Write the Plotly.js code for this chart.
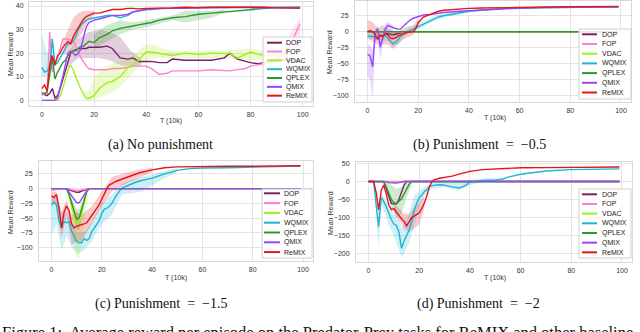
<!DOCTYPE html>
<html><head><meta charset="utf-8">
<script src="https://cdn.plot.ly/plotly-3.0.1.min.js"></script>
<style>html,body{margin:0;padding:0;background:#fff}#chart{width:640px;height:332px}</style>
</head><body><div id="chart"></div>
<script>
// ---------------- DATA ----------------
const methods = ['DOP','FOP','VDAC','WQMIX','QPLEX','QMIX','ReMIX'];
const xTicks = [0,20,40,60,80,100];

// (a) No punishment
const a_T = [0,1,2,3,4,5,6,7,8,9,10,11,12,13,14,15,16,17,18,20,22,25,27,30,33,35,37,40,42,45,48,50,55,60,65,70,72,75,78,80,83,85,88,90,93,95,97,99];
const a_DOP = [3,2.5,2,3,5,1,2,5,9,13,17,20,21,21.5,22,22,22,22,22.5, 22.5,22.5,23,22,18,17.5,18,16.5,16.5,16.5,16,16,17.5, 17,17,17,18,20,17.5,16.5,16,15.5,16,16.5,17,17,17,17,17];
const a_FOP = [2,3,3,29,12,16,18,22,26,26,26,25.5,25,23,20,18,16,14.5,13.5, 13,13,13,13.5,13.5,14,14.5,14.5,14.5,13.5,11,11.5,12.5, 12.5,12.5,13,12.5,12.5,13,13.5,14.5,15,15.5,17,18,19.5,23,28,32.5];
const a_VDAC = [0,0,0,0,0,0,0,2,5,9,13,15,13,10,7,4.5,2.5,1,0.8, 2,5,7.5,8,10,14,15,17,20.5,20.5,20,19.5,19, 20,19.5,20,20,19.8,18,19.5,20.5,19.5,19,19,19.5,19.5,19.5,19.5,19.5];
const a_WQMIX = [14,12,12.5,14,26,15,16,18,20,22,24,24,25,27,30,32,33,34,34.5, 35,35.5,36,36,35,36,37.5,38,38.5,38.5,39,39,39, 39.2,39.4,39.3,39.5,39.5,39.5,39.6,39.6,39.6,39.5,39.5,39.6,39.5,39.5,39.5,39.4];
const a_QPLEX = [3,3,3.5,10,18,9,12,14,16,17,19,20,21,21,22,23,23,24,25, 24.5,26.5,28,29.5,30.5,31,31.5,32,32.5,33,34,34.6,35, 35.5,36.5,37,37.5,37.8,38,38.5,38.7,39,39,39.2,39.3,39.3,39.5,39.5,39.5];
const a_QMIX = [0,0,0,0,0,0,1,5,10,15,20,21,20,19,20,22,27,31,33, 34,34.5,35.5,36,36,36.5,37.5,38,38.5,38.7,39,39,39, 39,39,39.2,39.2,39.3,39.3,39.4,39.3,39,39,39.2,39.3,39.2,39.2,39.2,39.2];
const a_ReMIX = [5,6.5,4,15,19,15,19,20,22.5,24,25,24,27,29,31,33,34.5,35.5,36, 37,37,38,38.5,38.5,39,39,38.8,39,39,39,39,39.2, 39.5,39.3,39.5,39.5,39.4,39.5,39.6,39.7,39.5,39.5,39.3,39.3,39.2,39.1,39,39];
// (a) shaded bands
const a_bandWQMIX_T = [0,1,2,3,4,5];
const a_bandWQMIX_hi = [28,24,20,22,28,17];
const a_bandWQMIX_lo = [10,10,10,12,22,13];
const a_bandReMIX_T = [8,10,12,14,16,18,20];
const a_bandReMIX_hi = [25,30,35,37,38,38,38];
const a_bandReMIX_lo = [19,20,22,26,30,34,36];
const a_bandDOP_T = [10,14,18,22,26,30,34,38];
const a_bandDOP_hi = [20,26,29,30,29,27,21,18];
const a_bandDOP_lo = [14,18,18,18,17,15,14,15];
const a_bandVDAC_T = [16,18,20,24,28,32,36,40,44,50,60,70,80,85];
const a_bandVDAC_hi = [4,4,10,14,16,17,20,24,23,21,21,21,22,21];
const a_bandVDAC_lo = [0,0,0,2,4,8,13,17,18,18,18,18,17,17];
const a_bandQPLEX_T = [20,25,30,35,40,50,55,60,65,70];
const a_bandQPLEX_hi = [28,32,34,33,34,36,38,38,38,38.5];
const a_bandQPLEX_lo = [22,25,28,30,31,34,33,34,35,37];
const a_bandFOP_T = [88,92,96,99];
const a_bandFOP_hi = [19,22,30,35];
const a_bandFOP_lo = [15,17,20,24];

// (b) Punishment = -0.5
const b_T = [0,1,2,3,4,5,6,7,8,9,10,11,12,13,14,15,16,17,18,19,20,22,25,28,30,35,40,45,50,55,60,65,70,80,90,99];
const b_DOP = [0,0,0,0,0,0,0,-1,-3,-4,-5,-4,-3,-1,0,0,0,0,0,0,0, 0,0,0,0,0,0,0,0,0,0,0,0,0,0,0];
const b_FOP = [0,0,0,0,0,0,0,0,0,0,0,0,0,0,0,0,0,0,0,0,0, 0,0,0,0,0,0,0,0,0,0,0,0,0,0,0];
const b_VDAC = [0,0,0,0,0,0,0,0,0,0,0,0,0,0,0,0,0,0,0,0,0, 0,0,0,0,0,0,0,0,0,0,0,0,0,0,0];
const b_WQMIX = [-7,-7,-7,-8,-9,-7,-5,-6,-10,-15,-19,-17,-13,-7,-4,-1,1,2,4,6,8, 12,18,23,25,29,32,33.5,35,36,36.5,37,37.5,38,38.5,38.5];
const b_QPLEX = [0,0,0,0,0,0,0,0,0,0,0,0,0,0,0,0,0,0,0,0,0, 0,0,0,0,0,0,0,0,0,0,0,0,0,0,0];
const b_QMIX = [-35,-38,-55,-3,5,-24,-10,4,10,8,6,5,4,4,8,12,16,19,21,22.5,24, 26,27,29,30,31.5,33,34,35,36,37,37.5,38,38.5,39,39];
const b_ReMIX = [0,2,0,-5,-12,-5,-8,-3,-5,-10,-11,-10,-7,-5,-3,-2,-1,0,0,5,14, 23,27.5,32,33.5,35.5,36.5,37,37.5,38,38,38.5,38.5,39,39,39.5];
const b_bandQMIX_T = [0,1,2,3,4,5,6,7,8,10];
const b_bandQMIX_hi = [-20,-20,-30,5,10,-10,0,12,15,10];
const b_bandQMIX_lo = [-70,-75,-105,-20,-5,-45,-20,-5,0,0];
const b_bandReMIX_T = [0,2,4,6,8,10,12,14,16,18,20];
const b_bandReMIX_hi = [18,15,5,10,5,0,0,5,8,10,20];
const b_bandReMIX_lo = [-10,-15,-20,-20,-20,-27,-20,-12,-8,-5,8];
const b_bandWQMIX_T = [0,4,8,10,12,16,20,25,30,40];
const b_bandWQMIX_hi = [-3,-3,-5,-14,-10,5,12,22,28,34];
const b_bandWQMIX_lo = [-12,-12,-15,-24,-20,-2,4,14,22,30];
const b_bandDOP_T = [6,8,10,12,14];
const b_bandDOP_hi = [0,0,0,0,0];
const b_bandDOP_lo = [0,-8,-10,-8,0];

// (c) Punishment = -1.5
const c_T = [0,1,2,3,4,5,6,7,8,9,10,11,12,13,14,15,16,17,18,19,20,21,22,23,24,25,26,28,30,33,35,40,45,50,55,60,70,80,90,99];
const c_DOP = [0,0,0,0,0,0,0,-2,-4,-5,-6,-6,-4,-2,-1,0,0,0,0,0,0,0,0,0,0,0,0, 0,0,0,0,0,0,0,0,0,0,0,0,0];
const c_FOP = [-3,-2,-1,0,0,0,0,0,-2,-3,-3,-3,-2,-1,0,0,0,0,0,0,0,0,0,0,0,0,0, 0,0,0,0,0,0,0,0,0,0,0,0,0];
const c_VDAC = [0,0,0,0,0,0,0,-12,-30,-48,-59,-59,-40,-22,-5,0,0,0,0,0,0,0,0,0,0,0,0, 0,0,0,0,0,0,0,0,0,0,0,0,0];
const c_WQMIX = [-28,-23,-28,-55,-67,-56,-58,-56,-72,-82,-90,-92,-92,-85,-88,-85,-73,-67,-61,-54,-42,-35,-33,-30,-25,-18,-10, 1,5,10,13,18,25,31,34,35,35.5,36.5,37,38.5];
const c_QPLEX = [0,0,0,0,0,0,0,-10,-25,-40,-52,-50,-35,-20,-5,0,0,0,0,0,0,0,0,0,0,0,0, 0,0,0,0,0,0,0,0,0,0,0,0,0];
const c_QMIX = [0,0,0,0,0,0,0,-6,-12,-18,-24,-24,-17,-11,-4,0,0,0,0,0,0,0,0,0,0,0,0, 0,0,0,0,0,0,0,0,0,0,0,0,0];
const c_ReMIX = [-12,-15,-10,-33,-67,-40,-29,-38,-60,-67,-64,-62,-61,-60,-58,-52,-46,-40,-33,-27,-18,-9,0,6,9,11,13, 16,20,24,27,32,35.5,37,37.5,37.5,38,38,38.5,39];
const c_bandWQMIX_T = [0,2,4,6,8,10,12,14,16,18,20,24,28,32,36,40,45,50];
const c_bandWQMIX_hi = [-15,-15,-40,-40,-55,-75,-75,-70,-55,-40,-25,-10,8,15,20,25,30,35];
const c_bandWQMIX_lo = [-80,-60,-105,-80,-100,-110,-108,-100,-90,-75,-60,-45,-10,-8,-5,5,18,28];
const c_bandReMIX_T = [0,2,4,6,8,10,12,16,20,24,28,32,36,40];
const c_bandReMIX_hi = [-5,-5,-40,-20,-45,-40,-45,-30,-5,20,25,30,33,36];
const c_bandReMIX_lo = [-25,-25,-85,-45,-95,-90,-90,-60,-30,-5,5,12,20,28];
const c_bandVDAC_T = [7,9,10,11,13,15];
const c_bandVDAC_hi = [-5,-30,-40,-40,-15,0];
const c_bandVDAC_lo = [-20,-90,-118,-118,-60,0];
const c_bandQPLEX_T = [7,10,11,14];
const c_bandQPLEX_hi = [-5,-35,-35,0];
const c_bandQPLEX_lo = [-15,-70,-70,-10];

// (d) Punishment = -2
const d_T = [0,1,2,3,4,5,6,7,8,9,10,11,12,13,14,15,16,17,18,19,20,21,22,23,24,25,26,28,30,33,36,38,40,45,50,53,55,60,70,80,90,99];
const d_DOP = [0,0,0,0,0,0,0,-20,-42,-61,-62,-62,-50,-30,-10,0,0,0,0,0,0,0,0,0,0,0,0, 0,0,0,0,0,0,0,0,0,0,0,0,0,0,0];
const d_FOP = [0,0,0,0,0,0,0,0,0,0,0,0,0,0,0,0,0,0,0,0,0,0,0,0,0,0,0, 0,0,0,0,0,0,0,0,0,0,0,0,0,0,0];
const d_VDAC = [0,0,0,0,0,0,0,-2,-3,-3,-3,-3,-3,-2,0,0,0,0,0,0,0,0,0,0,0,0,0, 0,0,0,0,0,0,0,0,0,0,0,0,0,0,0];
const d_WQMIX = [0,0,0,-65,-125,-45,-55,-70,-90,-106,-118,-122,-140,-185,-165,-150,-135,-110,-80,-60,-45,-38,-28,-22,-15,-12,-10, -9,-10,-15,-18,-12,-2,3,4,7,12,20,29,33,35,35];
const d_QPLEX = [0,0,0,0,0,0,0,-15,-35,-50,-58,-62,-55,-48,-35,-20,-8,0,0,0,0,0,0,0,0,0,0, 0,0,0,0,0,0,0,0,0,0,0,0,0,0,0];
const d_QMIX = [0,0,0,0,0,0,0,-1,-3,-4,-4,-4,-3,-1,0,0,0,0,0,0,0,0,0,0,0,0,0, 0,0,0,0,0,0,0,0,0,0,0,0,0,0,0];
const d_ReMIX = [0,0,0,-30,-79,-25,-10,-35,-65,-78,-75,-85,-95,-103,-110,-123,-112,-100,-96,-92,-87,-75,-60,-40,-15,0,5, 9,11,15,21,25,28,33,35,36,36.5,38,38.5,38.5,39,40];
const d_bandWQMIX_T = [3,4,5,8,10,12,13,14,16,18,20,22,25,30,35,40,45,50];
const d_bandWQMIX_hi = [-40,-60,-30,-70,-90,-100,-130,-120,-90,-40,-25,-15,-5,0,0,5,8,10];
const d_bandWQMIX_lo = [-100,-185,-60,-120,-150,-190,-210,-200,-170,-120,-70,-40,-20,-15,-25,-10,-2,0];
const d_bandReMIX_T = [10,12,14,16,18,20,22];
const d_bandReMIX_hi = [-60,-75,-90,-90,-70,-60,-40];
const d_bandReMIX_lo = [-85,-105,-130,-140,-130,-120,-75];
const d_bandQPLEX_T = [7,9,11,13,15,17];
const d_bandQPLEX_hi = [0,-10,-20,-15,-5,0];
const d_bandQPLEX_lo = [-30,-70,-100,-90,-45,-10];

// ---------------- STYLE / BUILD ----------------
const colors = {DOP:'#7b2163', FOP:'#ff80cc', VDAC:'#a2ee1c', WQMIX:'#1cb6d0', QPLEX:'#2a9a2a', QMIX:'#9547ff', ReMIX:'#e8141c'};
function rgba(hex,a){const n=parseInt(hex.slice(1),16);return `rgba(${n>>16&255},${n>>8&255},${n&255},${a})`;}
const SP='\u2002';

const panels = [
  {ax:'', T:a_T, series:{DOP:a_DOP,FOP:a_FOP,VDAC:a_VDAC,WQMIX:a_WQMIX,QPLEX:a_QPLEX,QMIX:a_QMIX,ReMIX:a_ReMIX},
   bands:[['WQMIX',a_bandWQMIX_T,a_bandWQMIX_lo,a_bandWQMIX_hi],['DOP',a_bandDOP_T,a_bandDOP_lo,a_bandDOP_hi],['VDAC',a_bandVDAC_T,a_bandVDAC_lo,a_bandVDAC_hi],['QPLEX',a_bandQPLEX_T,a_bandQPLEX_lo,a_bandQPLEX_hi],['FOP',a_bandFOP_T,a_bandFOP_lo,a_bandFOP_hi],['ReMIX',a_bandReMIX_T,a_bandReMIX_lo,a_bandReMIX_hi]],
   yTicks:[0,10,20,30,40], yr:[-2.4,41.7], xd:[29,313], yd:[2,106], ylen:3,
   leg:{box:[263,37,312,102], lx:[267,282], tx:284, r0:42.7, dy:8.83},
   ytitle:[10,54], xtitle:[171,121], cap:['(a) No punishment',160,145]},
  {ax:'2', T:b_T, series:{DOP:b_DOP,FOP:b_FOP,VDAC:b_VDAC,WQMIX:b_WQMIX,QPLEX:b_QPLEX,QMIX:b_QMIX,ReMIX:b_ReMIX},
   bands:[['QMIX',b_bandQMIX_T,b_bandQMIX_lo,b_bandQMIX_hi],['DOP',b_bandDOP_T,b_bandDOP_lo,b_bandDOP_hi],['WQMIX',b_bandWQMIX_T,b_bandWQMIX_lo,b_bandWQMIX_hi],['ReMIX',b_bandReMIX_T,b_bandReMIX_lo,b_bandReMIX_hi]],
   yTicks:[-100,-75,-50,-25,0,25], yr:[-110,48], xd:[355,631], yd:[1,102], ylen:4,
   leg:{box:[579,29,631,99], lx:[582,597], tx:600, r0:34.3, dy:9.7},
   ytitle:[330,52], xtitle:[495,118], cap:['(b) Punishment'+SP+'='+SP+'\u22120.5',479,145]},
  {ax:'3', T:c_T, series:{DOP:c_DOP,FOP:c_FOP,VDAC:c_VDAC,WQMIX:c_WQMIX,QPLEX:c_QPLEX,QMIX:c_QMIX,ReMIX:c_ReMIX},
   bands:[['WQMIX',c_bandWQMIX_T,c_bandWQMIX_lo,c_bandWQMIX_hi],['VDAC',c_bandVDAC_T,c_bandVDAC_lo,c_bandVDAC_hi],['QPLEX',c_bandQPLEX_T,c_bandQPLEX_lo,c_bandQPLEX_hi],['ReMIX',c_bandReMIX_T,c_bandReMIX_lo,c_bandReMIX_hi]],
   yTicks:[-100,-75,-50,-25,0,25], yr:[-123,47], xd:[39,313], yd:[161,261], ylen:4,
   leg:{box:[262,189,312,258], lx:[264,280], tx:282, r0:193.3, dy:9.8},
   ytitle:[11,212], xtitle:[176,278], cap:['(c) Punishment'+SP+'='+SP+'\u22121.5',161,304]},
  {ax:'4', T:d_T, series:{DOP:d_DOP,FOP:d_FOP,VDAC:d_VDAC,WQMIX:d_WQMIX,QPLEX:d_QPLEX,QMIX:d_QMIX,ReMIX:d_ReMIX},
   bands:[['WQMIX',d_bandWQMIX_T,d_bandWQMIX_lo,d_bandWQMIX_hi],['QPLEX',d_bandQPLEX_T,d_bandQPLEX_lo,d_bandQPLEX_hi],['ReMIX',d_bandReMIX_T,d_bandReMIX_lo,d_bandReMIX_hi]],
   yTicks:[-200,-150,-100,-50,0,50], yr:[-223,54], xd:[356,632], yd:[162,262], ylen:4,
   leg:{box:[579,189,631,258], lx:[582,597], tx:600, r0:194.3, dy:9.67},
   ytitle:[330,213], xtitle:[495,278], cap:['(d) Punishment'+SP+'='+SP+'\u22122',478,304]}
];

const W=640,H=332;
const PX = x => x/W, PY = y => 1 - y/H;
const data=[], shapes=[], annotations=[];
const layout = {width:W,height:H,margin:{l:0,r:0,t:0,b:0},paper_bgcolor:'#fff',plot_bgcolor:'#fff',showlegend:false,
  font:{family:'Liberation Sans, Arial, sans-serif',color:'#333'}};
const tickFont = {family:'Liberation Sans, Arial, sans-serif', size:7, color:'#333'};

panels.forEach(p=>{
  const xa='x'+p.ax, ya='y'+p.ax;
  p.bands.forEach(([m,T,lo,hi])=>{
    data.push({type:'scatter',mode:'lines',xaxis:xa,yaxis:ya,
      x:T.concat(T.slice().reverse()), y:hi.concat(lo.slice().reverse()),
      fill:'toself', fillcolor:rgba(colors[m],0.22), line:{width:0}, hoverinfo:'skip'});
  });
  methods.forEach(m=>{
    data.push({type:'scatter',mode:'lines',name:m,xaxis:xa,yaxis:ya,x:p.T,y:p.series[m],
      line:{color:colors[m],width:1.4}});
  });
  const common = {showgrid:true,gridcolor:'#e4e4e4',gridwidth:1,zeroline:false,showline:true,mirror:true,
    linecolor:'#d8d8d8',linewidth:1,tickfont:tickFont,ticks:'outside',tickcolor:'rgba(0,0,0,0)'};
  layout['xaxis'+p.ax] = Object.assign({},common,{domain:[PX(p.xd[0]),PX(p.xd[1])],range:[-4.95,103.95],
    tickvals:xTicks,ticklen:2,anchor:'y'+p.ax});
  layout['yaxis'+p.ax] = Object.assign({},common,{domain:[PY(p.yd[1]),PY(p.yd[0])],range:p.yr,
    tickvals:p.yTicks,ticklen:p.ylen,anchor:'x'+p.ax});
  annotations.push({xref:'paper',yref:'paper',x:PX(p.ytitle[0]),y:PY(p.ytitle[1]),text:'Mean Reward',textangle:-90,
    showarrow:false,font:{size:7,color:'#333'},xanchor:'center',yanchor:'middle'});
  annotations.push({xref:'paper',yref:'paper',x:PX(p.xtitle[0]),y:PY(p.xtitle[1]),text:'T (10k)',
    showarrow:false,font:{size:7,color:'#333'},xanchor:'center',yanchor:'middle'});
  annotations.push({xref:'paper',yref:'paper',x:PX(p.cap[1]),y:PY(p.cap[2]),text:p.cap[0],
    showarrow:false,font:{family:'Liberation Serif, Times New Roman, serif',size:14,color:'#111'},xanchor:'center',yanchor:'middle'});
  const L=p.leg;
  shapes.push({type:'rect',xref:'paper',yref:'paper',x0:PX(L.box[0]),x1:PX(L.box[2]),y0:PY(L.box[3]),y1:PY(L.box[1]),
    fillcolor:'rgba(255,255,255,0.85)',line:{color:'#d0d0d0',width:1},layer:'above'});
  methods.forEach((m,i)=>{
    const yy = L.r0 + i*L.dy;
    shapes.push({type:'line',xref:'paper',yref:'paper',x0:PX(L.lx[0]),x1:PX(L.lx[1]),y0:PY(yy),y1:PY(yy),
      line:{color:colors[m],width:2},layer:'above'});
    annotations.push({xref:'paper',yref:'paper',x:PX(L.tx),y:PY(yy),text:m,showarrow:false,
      font:{size:7,color:'#222'},xanchor:'left',yanchor:'middle'});
  });
});
annotations.push({xref:'paper',yref:'paper',x:PX(0),y:PY(321),text:'Figure 1:  Average reward per episode on the Predator-Prey tasks for ReMIX and other baseline',
  showarrow:false,font:{family:'Liberation Serif, Times New Roman, serif',size:16.5,color:'#111'},xanchor:'left',yanchor:'top'});
layout.shapes=shapes; layout.annotations=annotations;
Plotly.newPlot('chart',data,layout,{staticPlot:true,displayModeBar:false});
</script></body></html>
